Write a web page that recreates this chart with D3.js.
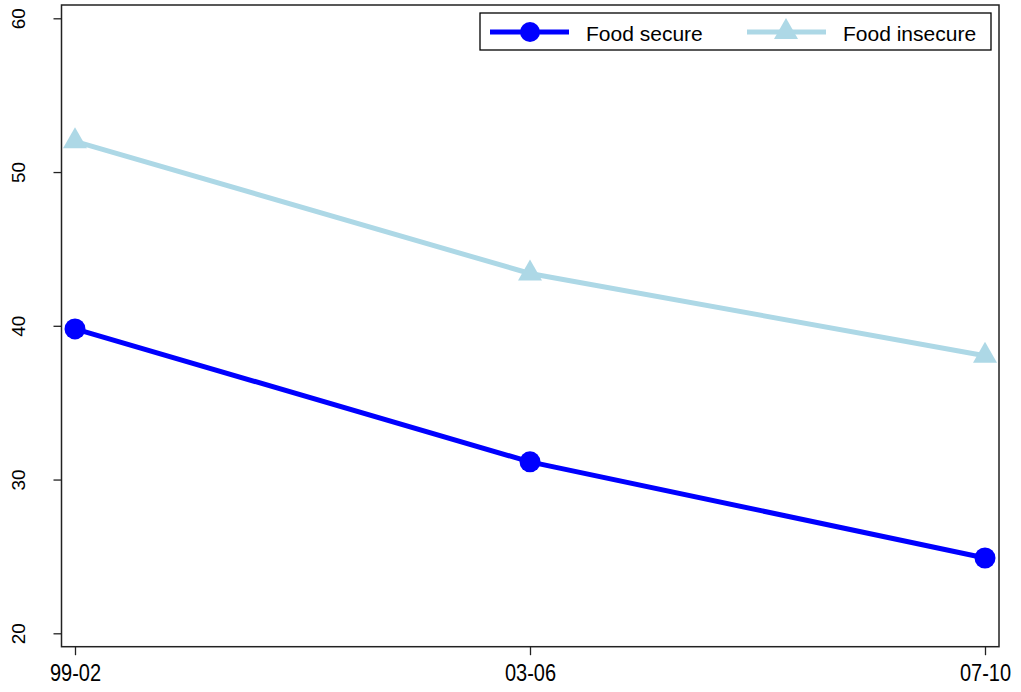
<!DOCTYPE html>
<html lang="en">
<head>
<meta charset="utf-8">
<style>
  body { margin: 0; background: #fff; }
  text { font-family: "Liberation Sans", Arial, sans-serif; fill: #000; }
</style>
</head>
<body>
<script src="https://d3js.org/d3.v7.min.js"></script>
<script>
  var width = 1021, height = 692;

  // data
  var periods = ['99-02', '03-06', '07-10'];
  var foodSecure = [39.8, 31.15, 24.9];
  var foodInsecure = [52.0, 43.4, 38.05];
  var yTicks = [20, 30, 40, 50, 60];
  var seriesNames = ['Food secure', 'Food insecure'];

  var box = { left: 61.5, right: 999, top: 5, bottom: 646.7 };

  var svg = d3.select('body').append('svg')
      .attr('width', width).attr('height', height);

  var x = d3.scalePoint().domain(periods).range([75, 985]);
  var y = d3.scaleLinear().domain([20, 60]).range([633.3, 18.3]);

  // plot frame
  svg.append('rect')
      .attr('x', box.left).attr('y', box.top)
      .attr('width', box.right - box.left).attr('height', box.bottom - box.top)
      .attr('fill', 'none').attr('stroke', '#222').attr('stroke-width', 1.5);

  // y axis
  var yAxis = svg.append('g')
      .attr('transform', 'translate(' + box.left + ',0)')
      .call(d3.axisLeft(y).tickValues(yTicks).tickSize(8).tickPadding(0).tickFormat(d3.format('d')));
  yAxis.select('.domain').remove();
  yAxis.selectAll('line').attr('stroke', '#222').attr('stroke-width', 1.3);
  yAxis.selectAll('text').remove();
  yAxis.selectAll('.tick').append('text')
      .attr('transform', 'translate(-36.5,0) rotate(-90)')
      .attr('text-anchor', 'middle')
      .style('font-size', '19px')
      .text(function (d) { return d; });

  // x axis
  var xAxis = svg.append('g')
      .attr('transform', 'translate(0,' + box.bottom + ')')
      .call(d3.axisBottom(x).tickSize(8.5).tickPadding(0));
  xAxis.select('.domain').remove();
  xAxis.selectAll('line').attr('stroke', '#222').attr('stroke-width', 1.3);
  xAxis.selectAll('text').remove();
  xAxis.selectAll('.tick').append('text')
      .attr('transform', 'translate(0,34) scale(1,1.17)')
      .attr('text-anchor', 'middle')
      .style('font-size', '20px')
      .text(function (d) { return d; });

  var line = d3.line()
      .x(function (d, i) { return x(periods[i]); })
      .y(function (d) { return y(d); });

  var tri = function (cx, cy) {
    return 'M' + cx + ',' + (cy - 14) + 'L' + (cx + 12) + ',' + (cy + 7) + 'L' + (cx - 12) + ',' + (cy + 7) + 'Z';
  };

  // food insecure
  svg.append('path').datum(foodInsecure)
      .attr('d', line).attr('fill', 'none')
      .attr('stroke', '#add8e6').attr('stroke-width', 5);
  svg.selectAll('.tri').data(foodInsecure).join('path')
      .attr('class', 'tri')
      .attr('d', function (d, i) { return tri(x(periods[i]), y(d)); })
      .attr('fill', '#add8e6');

  // food secure
  svg.append('path').datum(foodSecure)
      .attr('d', line).attr('fill', 'none')
      .attr('stroke', '#0000ff').attr('stroke-width', 5);
  svg.selectAll('.dot').data(foodSecure).join('circle')
      .attr('class', 'dot')
      .attr('cx', function (d, i) { return x(periods[i]); })
      .attr('cy', function (d) { return y(d); })
      .attr('r', 10.5)
      .attr('fill', '#0000ff');

  // legend
  var lg = svg.append('g');
  lg.append('rect')
      .attr('x', 480).attr('y', 13).attr('width', 511).attr('height', 37)
      .attr('fill', '#fff').attr('stroke', '#000').attr('stroke-width', 1.3);

  lg.append('line').attr('x1', 490).attr('x2', 569).attr('y1', 32).attr('y2', 32)
      .attr('stroke', '#0000ff').attr('stroke-width', 5);
  lg.append('circle').attr('cx', 530).attr('cy', 32).attr('r', 10).attr('fill', '#0000ff');
  lg.append('text').attr('x', 586).attr('y', 40.5).style('font-size', '21px').text(seriesNames[0]);

  lg.append('line').attr('x1', 747).attr('x2', 826).attr('y1', 32).attr('y2', 32)
      .attr('stroke', '#add8e6').attr('stroke-width', 5);
  lg.append('path').attr('d', tri(786, 32)).attr('fill', '#add8e6');
  lg.append('text').attr('x', 843).attr('y', 40.5).style('font-size', '21px').text(seriesNames[1]);
</script>
</body>
</html>
